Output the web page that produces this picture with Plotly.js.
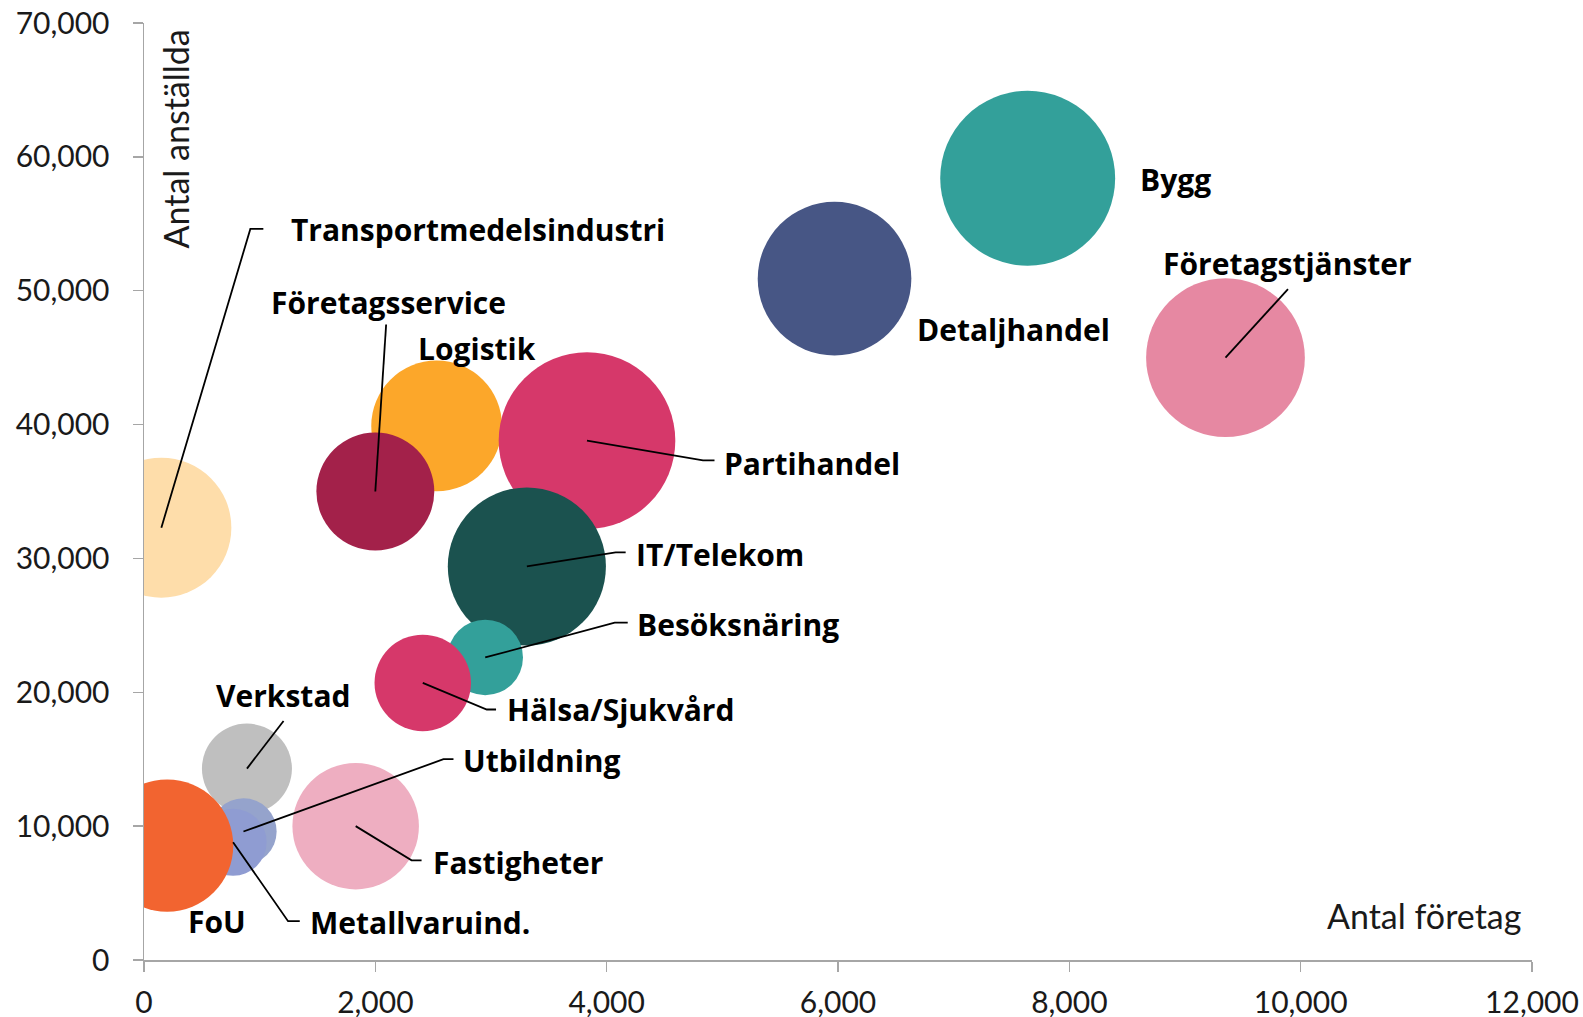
<!DOCTYPE html>
<html>
<head>
<meta charset="utf-8">
<script src="https://cdn.plot.ly/plotly-3.0.1.min.js"></script>
<style>
html,body{margin:0;padding:0;background:#ffffff;}
#chart{width:1583px;height:1017px;}
</style>
</head>
<body>
<div id="chart"></div>
<script>
// ---- Data (drawing order: back to front) ----
const branscher = [
  "Transportmedelsindustri", "Logistik", "Företagsservice", "Partihandel",
  "IT/Telekom", "Besöksnäring", "Hälsa/Sjukvård", "Verkstad",
  "Utbildning", "Metallvaruind.", "FoU", "Fastigheter",
  "Detaljhandel", "Bygg", "Företagstjänster"
];
const antalForetag = [
  150, 2530, 2000, 3830,
  3310, 2950, 2410, 890,
  860, 770, 200, 1830,
  5970, 7640, 9350
];
const antalAnstallda = [
  32300, 39900, 35000, 38800,
  29400, 22600, 20700, 14300,
  9600, 8800, 8550, 10000,
  50900, 58400, 45000
];
// relative bubble value (area-proportional)
const bubbelVarde = [
  196, 171, 139, 312,
  250, 57, 93, 81,
  44, 45, 175, 160,
  236, 306, 252
];
const xTicks = [0, 2000, 4000, 6000, 8000, 10000, 12000];
const yTicks = [0, 10000, 20000, 30000, 40000, 50000, 60000, 70000];

// ---- Styles ----
const farger = [
  "#FEDDAA", "#FCA72A", "#A3214A", "#D6386A",
  "#1B524F", "#33A09A", "#D6386A", "#BFBFBF",
  "#95A3CC", "#8F9CD2", "#F26430", "#EEAEC1",
  "#475685", "#33A09A", "#E688A2"
];

// label placement: pixel offsets from bubble centre (dx right, dy up), anchor, leader path
const labelStyle = {
  "Bygg":                    {dx: 110, dy: -1,   anchor: "left"},
  "Detaljhandel":            {dx: 80,  dy: -51,  anchor: "left"},
  "Företagstjänster":        {dx: 62,  dy: 94,   anchor: "center", lead: [[62.5, 68.5]]},
  "Partihandel":             {dx: 135, dy: -23,  anchor: "left",   lead: [[116, -19.7], [127.5, -19.7]]},
  "Logistik":                {dx: 40,  dy: 77,   anchor: "center"},
  "Företagsservice":         {dx: 13,  dy: 189,  anchor: "center", lead: [[10.8, 167]]},
  "Transportmedelsindustri": {dx: 128, dy: 298,  anchor: "left",   lead: [[89, 298.7], [102, 298.7]]},
  "IT/Telekom":              {dx: 107, dy: 12,   anchor: "left",   lead: [[88.8, 14], [98.8, 14]]},
  "Besöksnäring":            {dx: 150, dy: 33,   anchor: "left",   lead: [[129.5, 34.8], [142.5, 34.8]]},
  "Hälsa/Sjukvård":          {dx: 82,  dy: -27,  anchor: "left",   lead: [[64, -26.6], [73.3, -26.6]]},
  "Verkstad":                {dx: -33, dy: 73,   anchor: "left",   lead: [[36.6, 47.6]]},
  "Utbildning":              {dx: 218, dy: 71,   anchor: "left",   lead: [[200, 72.3], [210, 72.3]]},
  "Fastigheter":             {dx: 75,  dy: -36,  anchor: "left",   lead: [[55.9, -34.2], [65.9, -34.2]]},
  "Metallvaruind.":          {dx: 75,  dy: -80,  anchor: "left",   lead: [[55, -79], [66.7, -79]]},
  "FoU":                     {dx: 19,  dy: -76,  anchor: "left"}
};

const labelFont = {family: "'Open Sans', 'Noto Sans', sans-serif", size: 30, color: "#000000", weight: 700};
const axisFont = {family: "Lato, 'Noto Sans', sans-serif", size: 30, color: "#1a1a1a"};
const titleFont = {family: "Lato, 'Noto Sans', sans-serif", size: 34, color: "#1a1a1a"};
const axisColor = "#A6A6A6";

const trace = {
  type: "scatter",
  mode: "markers",
  x: antalForetag,
  y: antalAnstallda,
  text: branscher,
  marker: {
    size: bubbelVarde,
    sizemode: "area",
    sizeref: 0.02,
    color: farger,
    opacity: 1,
    line: {width: 0}
  },
  hoverinfo: "none",
  cliponaxis: true
};

const annotations = [];
const shapes = [];
branscher.forEach((name, i) => {
  const s = labelStyle[name];
  annotations.push({
    x: antalForetag[i], y: antalAnstallda[i], xref: "x", yref: "y",
    text: name, showarrow: false,
    xanchor: s.anchor, yanchor: "middle",
    xshift: s.dx, yshift: s.dy,
    font: labelFont
  });
  if (s.lead) {
    let path = "M0,0";
    s.lead.forEach(p => { path += " L" + p[0] + "," + p[1]; });
    shapes.push({
      type: "path", xref: "x", yref: "y",
      xsizemode: "pixel", ysizemode: "pixel",
      xanchor: antalForetag[i], yanchor: antalAnstallda[i],
      path: path,
      line: {color: "#000000", width: 1.8},
      layer: "above"
    });
  }
});

annotations.push({
  xref: "paper", yref: "paper", x: 0.0225, y: 0.876,
  text: "Antal anställda", textangle: -90, showarrow: false,
  xanchor: "center", yanchor: "middle", font: titleFont
});
annotations.push({
  xref: "paper", yref: "paper", x: 0.9935, y: 0.048,
  text: "Antal företag", showarrow: false,
  xanchor: "right", yanchor: "middle", font: titleFont
});

const layout = {
  width: 1583, height: 1017,
  margin: {l: 144, r: 51, t: 23, b: 57, pad: 0},
  paper_bgcolor: "#ffffff",
  plot_bgcolor: "#ffffff",
  showlegend: false,
  hovermode: false,
  xaxis: {
    range: [0, 12000], tickvals: xTicks, tickformat: ",d",
    showgrid: false, zeroline: false,
    showline: true, linecolor: axisColor, linewidth: 1.5,
    ticks: "outside", ticklen: 10, tickwidth: 1.5, tickcolor: axisColor,
    tickfont: axisFont, ticklabelstandoff: 5, fixedrange: true
  },
  yaxis: {
    range: [0, 70000], tickvals: yTicks, tickformat: ",d",
    showgrid: false, zeroline: false,
    showline: true, linecolor: axisColor, linewidth: 1.5,
    ticks: "outside", ticklen: 10, tickwidth: 1.5, tickcolor: axisColor,
    tickfont: axisFont, ticklabelstandoff: 17, fixedrange: true
  },
  annotations: annotations,
  shapes: shapes
};

Plotly.newPlot("chart", [trace], layout, {displayModeBar: false, staticPlot: true});
</script>
</body>
</html>
